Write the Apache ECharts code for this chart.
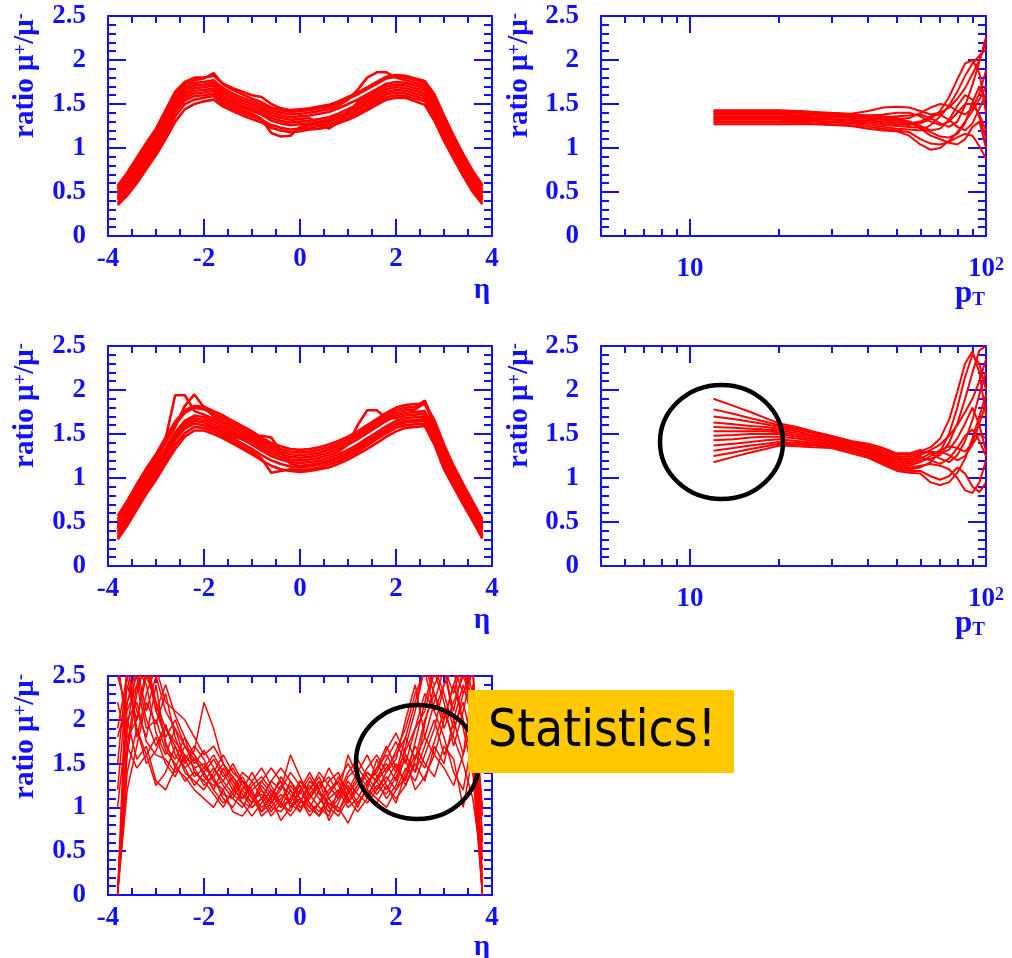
<!DOCTYPE html>
<html>
<head>
<meta charset="utf-8">
<script src="https://cdn.jsdelivr.net/npm/echarts@6/dist/echarts.min.js"></script>
<style>
html, body { margin: 0; padding: 0; background: #fff; }
#main { width: 1012px; height: 958px; }
</style>
</head>
<body>
<div id="main"></div>
<script>
// eta bins shared by the three eta plots
var etaBins = [-3.8, -3.6, -3.4, -3.2, -3.0, -2.8, -2.6, -2.4, -2.2, -2.0, -1.8, -1.6, -1.4, -1.2, -1.0, -0.8, -0.6, -0.4, -0.2, 0,
  0.2, 0.4, 0.6, 0.8, 1.0, 1.2, 1.4, 1.6, 1.8, 2.0, 2.2, 2.4, 2.6, 2.8, 3.0, 3.2, 3.4, 3.6, 3.8];
// pT bins shared by the two pT plots
var ptBins = [12, 14, 16, 18, 20, 23, 26, 30, 35, 40, 45, 50, 55, 60, 65, 70, 75, 80, 85, 90, 95, 100];

// tick values for the log axis
var ptMajor = [10];
var ptMinor = [6, 7, 8, 9, 20, 30, 40, 50, 60, 70, 80, 90];
var ptLabels = [10, 100];

// --- top left: ratio vs eta ---
var t1a = [0.35, 0.46, 0.60, 0.76, 0.92, 1.10, 1.30, 1.44, 1.50, 1.53, 1.55, 1.47, 1.42, 1.37, 1.33, 1.29, 1.23, 1.20, 1.18, 1.19, 1.21, 1.22, 1.24, 1.28, 1.32, 1.37, 1.43, 1.49, 1.55, 1.57, 1.57, 1.53, 1.49, 1.31, 1.08, 0.88, 0.68, 0.50, 0.36];
var t1b = [0.38, 0.50, 0.64, 0.80, 0.96, 1.15, 1.36, 1.50, 1.55, 1.57, 1.59, 1.50, 1.45, 1.40, 1.36, 1.32, 1.26, 1.23, 1.21, 1.22, 1.23, 1.25, 1.27, 1.31, 1.35, 1.40, 1.46, 1.52, 1.58, 1.60, 1.59, 1.56, 1.53, 1.36, 1.12, 0.91, 0.71, 0.54, 0.38];
var t1c = [0.41, 0.53, 0.68, 0.84, 1.00, 1.20, 1.41, 1.54, 1.59, 1.60, 1.62, 1.53, 1.48, 1.43, 1.39, 1.33, 1.17, 1.13, 1.14, 1.24, 1.26, 1.28, 1.30, 1.34, 1.38, 1.43, 1.49, 1.55, 1.61, 1.63, 1.62, 1.59, 1.56, 1.40, 1.16, 0.94, 0.74, 0.57, 0.41];
var t1d = [0.43, 0.56, 0.71, 0.88, 1.04, 1.24, 1.45, 1.57, 1.62, 1.63, 1.65, 1.56, 1.51, 1.46, 1.42, 1.38, 1.31, 1.28, 1.26, 1.27, 1.28, 1.30, 1.32, 1.36, 1.41, 1.46, 1.52, 1.58, 1.64, 1.66, 1.65, 1.62, 1.59, 1.44, 1.20, 0.97, 0.77, 0.59, 0.43];
var t1e = [0.45, 0.58, 0.74, 0.91, 1.07, 1.28, 1.48, 1.60, 1.65, 1.66, 1.68, 1.59, 1.53, 1.48, 1.44, 1.40, 1.34, 1.31, 1.29, 1.30, 1.31, 1.33, 1.35, 1.39, 1.44, 1.49, 1.55, 1.61, 1.67, 1.69, 1.68, 1.65, 1.62, 1.47, 1.23, 1.00, 0.79, 0.61, 0.45];
var t1f = [0.48, 0.61, 0.77, 0.94, 1.10, 1.31, 1.51, 1.63, 1.68, 1.69, 1.71, 1.62, 1.56, 1.51, 1.47, 1.43, 1.37, 1.34, 1.32, 1.33, 1.34, 1.28, 1.22, 1.29, 1.40, 1.52, 1.58, 1.64, 1.70, 1.72, 1.71, 1.68, 1.65, 1.50, 1.26, 1.03, 0.82, 0.64, 0.48];
var t1g = [0.50, 0.64, 0.80, 0.97, 1.13, 1.34, 1.54, 1.66, 1.71, 1.72, 1.74, 1.65, 1.59, 1.54, 1.50, 1.46, 1.40, 1.37, 1.35, 1.36, 1.37, 1.39, 1.41, 1.45, 1.50, 1.55, 1.61, 1.67, 1.73, 1.75, 1.74, 1.71, 1.68, 1.53, 1.29, 1.06, 0.85, 0.67, 0.50];
var t1h = [0.53, 0.67, 0.83, 1.00, 1.16, 1.37, 1.57, 1.69, 1.74, 1.75, 1.77, 1.68, 1.62, 1.57, 1.53, 1.49, 1.43, 1.40, 1.38, 1.39, 1.40, 1.42, 1.44, 1.48, 1.55, 1.66, 1.80, 1.86, 1.86, 1.80, 1.77, 1.74, 1.71, 1.56, 1.32, 1.09, 0.88, 0.70, 0.53];
var t1i = [0.55, 0.70, 0.86, 1.03, 1.19, 1.40, 1.61, 1.72, 1.77, 1.79, 1.85, 1.72, 1.66, 1.61, 1.56, 1.52, 1.46, 1.43, 1.41, 1.42, 1.43, 1.45, 1.47, 1.51, 1.56, 1.61, 1.67, 1.73, 1.79, 1.81, 1.80, 1.77, 1.74, 1.59, 1.35, 1.12, 0.91, 0.72, 0.56];
var t1j = [0.57, 0.72, 0.89, 1.06, 1.22, 1.43, 1.64, 1.75, 1.80, 1.80, 1.82, 1.73, 1.68, 1.64, 1.60, 1.58, 1.50, 1.45, 1.43, 1.44, 1.45, 1.47, 1.49, 1.53, 1.58, 1.63, 1.69, 1.75, 1.81, 1.83, 1.82, 1.79, 1.76, 1.61, 1.37, 1.14, 0.93, 0.74, 0.58];

// --- top right: ratio vs pT ---
var t2a = [1.27, 1.27, 1.27, 1.27, 1.27, 1.27, 1.27, 1.26, 1.25, 1.22, 1.20, 1.19, 1.14, 1.04, 0.98, 1.00, 1.08, 1.18, 1.30, 1.42, 1.55, 1.70];
var t2b = [1.29, 1.29, 1.29, 1.29, 1.29, 1.29, 1.28, 1.27, 1.26, 1.24, 1.22, 1.20, 1.18, 1.10, 1.05, 1.04, 1.07, 1.12, 1.16, 1.14, 1.02, 0.88];
var t2c = [1.30, 1.30, 1.30, 1.30, 1.30, 1.30, 1.30, 1.29, 1.28, 1.26, 1.24, 1.22, 1.21, 1.20, 1.26, 1.36, 1.48, 1.64, 1.82, 1.96, 2.05, 2.12];
var t2d = [1.32, 1.32, 1.32, 1.32, 1.32, 1.31, 1.31, 1.30, 1.29, 1.28, 1.26, 1.25, 1.24, 1.23, 1.18, 1.13, 1.12, 1.16, 1.28, 1.52, 1.70, 1.55];
var t2e = [1.33, 1.33, 1.33, 1.33, 1.33, 1.33, 1.32, 1.32, 1.31, 1.30, 1.28, 1.27, 1.26, 1.28, 1.33, 1.42, 1.58, 1.78, 1.96, 2.00, 1.85, 1.40];
var t2f = [1.35, 1.35, 1.35, 1.35, 1.35, 1.34, 1.34, 1.33, 1.32, 1.31, 1.30, 1.29, 1.28, 1.30, 1.36, 1.38, 1.32, 1.24, 1.20, 1.28, 1.45, 1.62];
var t2g = [1.36, 1.36, 1.36, 1.36, 1.36, 1.36, 1.35, 1.35, 1.34, 1.33, 1.32, 1.31, 1.30, 1.25, 1.20, 1.22, 1.32, 1.48, 1.60, 1.55, 1.35, 1.10];
var t2h = [1.38, 1.38, 1.38, 1.38, 1.38, 1.37, 1.37, 1.36, 1.35, 1.34, 1.33, 1.33, 1.34, 1.40, 1.46, 1.50, 1.48, 1.42, 1.38, 1.45, 1.62, 1.88];
var t2i = [1.39, 1.39, 1.39, 1.39, 1.39, 1.39, 1.38, 1.37, 1.36, 1.35, 1.35, 1.36, 1.37, 1.38, 1.34, 1.28, 1.24, 1.30, 1.48, 1.72, 1.98, 2.26];
var t2j = [1.41, 1.41, 1.41, 1.41, 1.41, 1.40, 1.39, 1.38, 1.37, 1.37, 1.38, 1.40, 1.40, 1.36, 1.30, 1.26, 1.30, 1.40, 1.50, 1.50, 1.38, 1.20];
var t2k = [1.42, 1.42, 1.42, 1.42, 1.42, 1.42, 1.41, 1.40, 1.39, 1.42, 1.46, 1.47, 1.46, 1.42, 1.38, 1.40, 1.46, 1.56, 1.68, 1.84, 2.00, 2.20];
var t2l = [1.43, 1.43, 1.43, 1.43, 1.43, 1.42, 1.41, 1.39, 1.38, 1.37, 1.36, 1.34, 1.30, 1.22, 1.14, 1.10, 1.06, 1.04, 1.10, 1.24, 1.30, 1.00];

// --- middle left: ratio vs eta ---
var m1a = [0.30, 0.46, 0.64, 0.82, 0.98, 1.16, 1.33, 1.47, 1.54, 1.54, 1.50, 1.45, 1.39, 1.33, 1.27, 1.20, 1.14, 1.10, 1.08, 1.07, 1.08, 1.10, 1.12, 1.16, 1.21, 1.27, 1.33, 1.40, 1.47, 1.53, 1.57, 1.58, 1.59, 1.38, 1.10, 0.90, 0.70, 0.51, 0.31];
var m1b = [0.33, 0.49, 0.68, 0.86, 1.02, 1.20, 1.38, 1.51, 1.58, 1.57, 1.53, 1.48, 1.42, 1.36, 1.30, 1.22, 1.06, 1.08, 1.10, 1.09, 1.10, 1.12, 1.15, 1.19, 1.24, 1.30, 1.37, 1.44, 1.51, 1.57, 1.60, 1.61, 1.62, 1.42, 1.13, 0.92, 0.72, 0.53, 0.33];
var m1c = [0.36, 0.53, 0.72, 0.90, 1.06, 1.25, 1.43, 1.56, 1.62, 1.60, 1.56, 1.51, 1.45, 1.39, 1.33, 1.26, 1.20, 1.16, 1.13, 1.12, 1.13, 1.15, 1.18, 1.22, 1.27, 1.33, 1.40, 1.47, 1.54, 1.60, 1.63, 1.64, 1.65, 1.45, 1.17, 0.95, 0.75, 0.56, 0.35];
var m1d = [0.39, 0.56, 0.75, 0.93, 1.09, 1.28, 1.46, 1.59, 1.65, 1.63, 1.58, 1.53, 1.47, 1.44, 1.46, 1.48, 1.46, 1.30, 1.16, 1.14, 1.15, 1.17, 1.20, 1.24, 1.29, 1.35, 1.42, 1.49, 1.56, 1.62, 1.65, 1.66, 1.67, 1.48, 1.20, 0.98, 0.78, 0.58, 0.38];
var m1e = [0.42, 0.59, 0.78, 0.96, 1.12, 1.31, 1.49, 1.62, 1.68, 1.66, 1.61, 1.56, 1.50, 1.44, 1.38, 1.31, 1.25, 1.21, 1.18, 1.17, 1.18, 1.20, 1.23, 1.27, 1.32, 1.38, 1.45, 1.52, 1.59, 1.65, 1.68, 1.69, 1.70, 1.51, 1.23, 1.01, 0.81, 0.61, 0.41];
var m1f = [0.44, 0.62, 0.81, 0.99, 1.15, 1.34, 1.52, 1.65, 1.71, 1.69, 1.64, 1.59, 1.53, 1.47, 1.41, 1.34, 1.28, 1.24, 1.21, 1.20, 1.21, 1.23, 1.26, 1.30, 1.38, 1.60, 1.77, 1.77, 1.68, 1.68, 1.71, 1.72, 1.73, 1.54, 1.26, 1.04, 0.84, 0.64, 0.43];
var m1g = [0.47, 0.65, 0.84, 1.02, 1.18, 1.45, 1.94, 1.94, 1.76, 1.72, 1.67, 1.62, 1.56, 1.50, 1.44, 1.37, 1.31, 1.27, 1.24, 1.23, 1.24, 1.26, 1.29, 1.33, 1.38, 1.44, 1.51, 1.58, 1.65, 1.71, 1.74, 1.75, 1.76, 1.57, 1.29, 1.07, 0.86, 0.66, 0.45];
var m1h = [0.50, 0.68, 0.87, 1.05, 1.21, 1.40, 1.58, 1.82, 1.95, 1.80, 1.70, 1.65, 1.59, 1.53, 1.47, 1.40, 1.34, 1.30, 1.27, 1.26, 1.27, 1.29, 1.32, 1.36, 1.41, 1.47, 1.54, 1.61, 1.68, 1.74, 1.77, 1.78, 1.85, 1.60, 1.32, 1.09, 0.88, 0.68, 0.47];
var m1i = [0.53, 0.71, 0.90, 1.08, 1.24, 1.43, 1.61, 1.74, 1.80, 1.78, 1.73, 1.68, 1.62, 1.56, 1.50, 1.43, 1.37, 1.33, 1.30, 1.29, 1.30, 1.32, 1.35, 1.39, 1.44, 1.50, 1.57, 1.64, 1.71, 1.77, 1.80, 1.81, 1.88, 1.63, 1.35, 1.12, 0.91, 0.71, 0.50];
var m1j = [0.57, 0.74, 0.93, 1.11, 1.27, 1.46, 1.64, 1.77, 1.82, 1.81, 1.76, 1.71, 1.65, 1.59, 1.53, 1.46, 1.40, 1.36, 1.33, 1.32, 1.33, 1.35, 1.38, 1.42, 1.47, 1.53, 1.60, 1.67, 1.74, 1.80, 1.83, 1.84, 1.84, 1.66, 1.38, 1.14, 0.93, 0.73, 0.53];

// --- middle right: ratio vs pT (fan at low pT) ---
var m2a = [1.18, 1.24, 1.29, 1.33, 1.37, 1.36, 1.35, 1.34, 1.28, 1.23, 1.15, 1.08, 1.06, 1.05, 0.95, 0.92, 0.95, 1.06, 1.22, 1.45, 1.70, 1.95];
var m2b = [1.25, 1.29, 1.33, 1.36, 1.39, 1.38, 1.37, 1.35, 1.30, 1.25, 1.17, 1.10, 1.08, 1.08, 1.02, 0.98, 1.02, 1.12, 1.05, 0.90, 0.84, 0.95];
var m2c = [1.31, 1.34, 1.37, 1.39, 1.41, 1.40, 1.38, 1.36, 1.31, 1.26, 1.19, 1.12, 1.10, 1.12, 1.18, 1.30, 1.50, 1.80, 2.15, 2.40, 2.30, 2.00];
var m2d = [1.37, 1.39, 1.41, 1.43, 1.44, 1.42, 1.40, 1.38, 1.33, 1.28, 1.21, 1.14, 1.12, 1.14, 1.16, 1.14, 1.10, 1.00, 0.86, 0.83, 0.95, 1.20];
var m2e = [1.43, 1.44, 1.46, 1.47, 1.47, 1.45, 1.42, 1.39, 1.34, 1.29, 1.22, 1.16, 1.14, 1.18, 1.25, 1.32, 1.36, 1.34, 1.30, 1.40, 1.62, 1.85];
var m2f = [1.48, 1.49, 1.50, 1.50, 1.50, 1.47, 1.44, 1.41, 1.35, 1.30, 1.24, 1.18, 1.16, 1.20, 1.22, 1.26, 1.40, 1.62, 1.90, 2.20, 2.45, 2.50];
var m2g = [1.53, 1.53, 1.53, 1.53, 1.52, 1.49, 1.46, 1.42, 1.37, 1.32, 1.25, 1.20, 1.18, 1.22, 1.28, 1.30, 1.26, 1.20, 1.25, 1.38, 1.50, 1.45];
var m2h = [1.58, 1.57, 1.56, 1.55, 1.54, 1.51, 1.48, 1.44, 1.38, 1.33, 1.27, 1.22, 1.20, 1.24, 1.20, 1.16, 1.22, 1.34, 1.48, 1.55, 1.42, 1.25];
var m2i = [1.63, 1.61, 1.59, 1.58, 1.56, 1.53, 1.49, 1.45, 1.39, 1.34, 1.28, 1.23, 1.22, 1.26, 1.32, 1.38, 1.48, 1.60, 1.75, 1.90, 2.10, 2.35];
var m2j = [1.70, 1.67, 1.64, 1.61, 1.58, 1.55, 1.51, 1.46, 1.40, 1.35, 1.30, 1.25, 1.24, 1.28, 1.30, 1.28, 1.32, 1.45, 1.62, 1.80, 1.60, 1.30];
var m2k = [1.78, 1.73, 1.68, 1.64, 1.60, 1.56, 1.52, 1.47, 1.41, 1.37, 1.32, 1.27, 1.26, 1.30, 1.35, 1.45, 1.66, 1.98, 2.30, 2.44, 2.20, 1.70];
var m2l = [1.90, 1.82, 1.75, 1.68, 1.62, 1.58, 1.53, 1.48, 1.42, 1.39, 1.34, 1.28, 1.28, 1.32, 1.28, 1.22, 1.18, 1.26, 1.42, 1.66, 1.95, 2.20];

// --- bottom: ratio vs eta, low statistics ---
var b1a = [0.00, 1.60, 2.30, 2.70, 2.20, 1.90, 1.75, 1.60, 1.45, 1.50, 1.30, 1.20, 1.35, 1.15, 1.05, 1.20, 1.00, 0.95, 1.10, 1.25, 1.05, 0.95, 1.10, 1.20, 1.15, 1.35, 1.25, 1.45, 1.60, 1.40, 1.80, 2.20, 2.60, 2.30, 2.00, 2.40, 2.70, 1.80, 0.00];
var b1b = [1.50, 2.60, 2.10, 1.80, 2.40, 1.70, 1.55, 1.80, 1.40, 1.30, 1.45, 1.25, 1.10, 1.30, 1.20, 0.95, 1.15, 1.30, 1.05, 0.95, 1.15, 1.30, 1.00, 0.90, 1.10, 1.25, 1.40, 1.30, 1.55, 1.75, 1.50, 1.90, 2.10, 2.55, 2.20, 1.70, 2.10, 2.60, 0.60];
var b1c = [0.00, 1.20, 1.70, 2.20, 1.95, 2.30, 1.80, 1.50, 1.65, 2.20, 1.90, 1.50, 1.30, 1.10, 1.25, 1.35, 1.20, 1.05, 0.90, 1.05, 1.30, 1.20, 0.85, 1.05, 1.30, 1.15, 1.05, 1.20, 1.35, 1.20, 1.45, 1.30, 1.60, 1.90, 2.40, 2.60, 1.90, 1.40, 0.00];
var b1d = [2.60, 2.00, 1.55, 1.70, 1.30, 1.20, 1.45, 1.35, 1.20, 1.10, 1.00, 1.20, 0.95, 0.90, 1.05, 1.25, 1.10, 0.85, 1.00, 1.20, 1.00, 0.90, 1.05, 1.00, 0.82, 1.05, 1.20, 1.10, 1.00, 1.20, 1.35, 1.60, 1.45, 1.75, 2.10, 1.80, 1.50, 1.10, 0.30];
var b1e = [1.80, 2.20, 2.50, 2.00, 1.70, 1.95, 1.60, 1.45, 1.55, 1.40, 1.20, 1.45, 1.25, 1.05, 1.00, 1.10, 1.30, 1.20, 1.60, 1.35, 1.10, 1.25, 1.35, 1.15, 1.60, 1.35, 1.15, 1.30, 1.45, 1.60, 1.80, 1.55, 2.00, 2.30, 1.90, 2.20, 2.50, 2.20, 1.00];
var b1f = [0.00, 1.90, 2.60, 2.10, 2.50, 2.10, 1.90, 1.70, 1.55, 1.40, 1.55, 1.35, 1.45, 1.25, 1.10, 1.15, 0.95, 1.10, 1.25, 1.10, 0.95, 1.05, 1.20, 1.30, 1.05, 1.25, 1.45, 1.60, 1.40, 1.55, 2.00, 2.40, 1.80, 2.20, 2.60, 2.00, 1.60, 2.40, 0.00];
var b1g = [2.20, 1.70, 1.45, 1.60, 1.80, 1.50, 1.35, 1.60, 1.45, 1.25, 1.35, 1.10, 1.00, 1.20, 1.40, 1.20, 1.05, 1.25, 1.15, 0.95, 1.20, 1.40, 1.25, 1.10, 1.25, 1.05, 1.20, 1.55, 1.25, 1.05, 1.40, 1.70, 1.50, 1.35, 1.70, 1.55, 1.00, 1.60, 0.20];
var b1h = [1.20, 2.40, 2.00, 2.60, 2.10, 1.80, 2.00, 1.70, 1.50, 1.65, 1.45, 1.30, 1.15, 1.05, 0.90, 1.05, 1.20, 1.00, 1.10, 1.30, 1.15, 1.00, 0.90, 1.20, 1.00, 1.10, 1.30, 1.40, 1.65, 1.85, 1.60, 1.40, 1.70, 2.00, 1.60, 1.85, 2.30, 2.60, 0.90];
var b1i = [0.00, 1.40, 1.90, 1.60, 1.25, 1.40, 1.70, 1.40, 1.30, 1.20, 1.40, 1.60, 1.40, 1.30, 1.15, 1.00, 1.10, 1.35, 1.20, 1.05, 1.25, 1.10, 0.95, 1.10, 1.35, 1.45, 1.30, 1.15, 1.30, 1.50, 1.25, 1.55, 1.80, 1.60, 1.45, 1.25, 1.60, 2.00, 0.00];
var b1j = [2.50, 2.10, 2.40, 1.90, 2.00, 1.65, 1.50, 1.30, 1.40, 1.30, 1.15, 1.00, 1.20, 1.40, 1.30, 1.10, 0.90, 1.05, 1.30, 1.15, 1.35, 1.15, 1.05, 0.95, 1.20, 1.40, 1.60, 1.35, 1.20, 1.40, 1.65, 1.90, 2.30, 2.10, 1.80, 1.40, 1.20, 1.80, 0.50];
var b1k = [1.00, 2.00, 2.20, 1.75, 1.60, 1.55, 1.40, 1.55, 1.70, 1.55, 1.30, 1.15, 1.10, 1.00, 1.20, 1.30, 1.45, 1.30, 1.00, 1.10, 0.90, 1.05, 1.30, 1.40, 1.10, 0.95, 1.10, 1.25, 1.15, 1.35, 1.55, 1.20, 1.35, 1.60, 2.00, 2.40, 2.00, 1.50, 0.00];
var b1l = [0.00, 2.70, 1.80, 2.30, 2.60, 2.20, 2.10, 2.00, 1.80, 1.60, 1.70, 1.50, 1.35, 1.20, 1.05, 1.30, 1.15, 1.00, 1.20, 1.00, 1.10, 1.30, 1.15, 1.30, 1.50, 1.30, 1.10, 1.35, 1.50, 1.30, 1.70, 2.10, 2.60, 2.40, 2.60, 2.10, 2.60, 2.20, 0.00];
var b1m = [0.00, 2.20, 2.60, 2.40, 1.85, 1.60, 1.90, 1.55, 1.35, 1.45, 1.60, 1.40, 1.20, 1.10, 1.30, 1.45, 1.25, 1.05, 0.95, 1.20, 1.40, 1.20, 1.00, 1.15, 1.40, 1.55, 1.35, 1.20, 1.40, 1.65, 1.90, 2.30, 2.55, 2.10, 2.40, 2.60, 2.30, 2.60, 0.00];
var b1n = [2.70, 1.80, 2.00, 2.50, 2.20, 1.75, 1.45, 1.70, 1.60, 1.35, 1.25, 1.30, 1.50, 1.30, 1.10, 0.95, 1.05, 1.20, 1.40, 1.25, 1.05, 0.90, 1.15, 1.35, 1.20, 1.00, 1.25, 1.45, 1.70, 1.45, 1.30, 1.75, 2.20, 2.60, 2.30, 1.90, 2.20, 1.70, 0.40];
var b1o = [0.00, 1.70, 2.40, 2.70, 2.10, 2.40, 2.05, 1.80, 1.60, 1.45, 1.35, 1.50, 1.30, 1.15, 1.00, 1.10, 1.30, 1.45, 1.30, 1.10, 1.00, 1.20, 1.45, 1.25, 1.05, 1.20, 1.40, 1.30, 1.10, 1.25, 1.60, 1.40, 1.95, 2.40, 2.60, 2.30, 2.70, 2.30, 0.00];
var b1p = [1.90, 2.50, 1.90, 1.50, 1.65, 1.90, 1.70, 1.45, 1.25, 1.40, 1.20, 1.05, 1.15, 1.35, 1.15, 0.90, 1.00, 1.15, 1.05, 1.30, 1.20, 1.35, 1.10, 0.95, 1.15, 1.30, 1.15, 1.05, 1.25, 1.10, 1.25, 1.50, 1.30, 1.70, 1.50, 2.00, 2.40, 2.00, 0.70];

var BLUE = '#1010ff';
var RED = '#ff0000';
var SERIF = '"Liberation Serif", "DejaVu Serif", serif';

function axisLineStyle() {
    return { color: BLUE, width: 2 };
}

// eta axis, bottom one carries the labels
function etaAxis(g, pos) {
    return {
        type: 'value', gridIndex: g, position: pos, min: -4, max: 4, interval: 2,
        axisLine: { show: true, onZero: false, lineStyle: axisLineStyle() },
        axisTick: { show: true, inside: true, length: 17, lineStyle: axisLineStyle() },
        minorTick: { show: true, splitNumber: 4, length: 7, lineStyle: axisLineStyle() },
        axisLabel: {
            show: pos === 'bottom', margin: 10, color: BLUE,
            fontFamily: SERIF, fontWeight: 'bold', fontSize: 27
        },
        splitLine: { show: false }
    };
}

// log pT axis, ticks given explicitly (major and minor ones on separate axes)
function ptAxis(g, pos, ticks, len, withLabels) {
    var ax = {
        type: 'log', logBase: 10, gridIndex: g, position: pos, min: 5, max: 100,
        axisLine: { show: len > 10, onZero: false, lineStyle: axisLineStyle() },
        axisTick: { show: true, inside: true, length: len, customValues: ticks, lineStyle: axisLineStyle() },
        axisLabel: { show: false },
        splitLine: { show: false }
    };
    if (withLabels) {
        ax.axisLabel = {
            show: true, customValues: ptLabels, margin: 20, color: BLUE,
            fontFamily: SERIF, fontWeight: 'bold', fontSize: 27,
            formatter: function (v) {
                return v >= 100 ? '{b|10}{s|2}' : '{b|10}';
            },
            rich: {
                b: { color: BLUE, fontFamily: SERIF, fontWeight: 'bold', fontSize: 27, lineHeight: 27, verticalAlign: 'bottom' },
                s: { color: BLUE, fontFamily: SERIF, fontWeight: 'bold', fontSize: 18, lineHeight: 18, verticalAlign: 'top', padding: [0, 0, 18, 0] }
            }
        };
    }
    return ax;
}

function ratioAxis(g, pos) {
    return {
        type: 'value', gridIndex: g, position: pos, min: 0, max: 2.5, interval: 0.5,
        axisLine: { show: true, onZero: false, lineStyle: axisLineStyle() },
        axisTick: { show: true, inside: true, length: 18, lineStyle: axisLineStyle() },
        minorTick: { show: true, splitNumber: 5, length: 8, lineStyle: axisLineStyle() },
        axisLabel: {
            show: pos === 'left', margin: 22, color: BLUE,
            fontFamily: SERIF, fontWeight: 'bold', fontSize: 27
        },
        splitLine: { show: false }
    };
}

var grids = [
    { left: 108, top: 16, width: 384, height: 220 },
    { left: 601, top: 16, width: 385, height: 220 },
    { left: 108, top: 346, width: 384, height: 220 },
    { left: 601, top: 346, width: 385, height: 220 },
    { left: 108, top: 676, width: 384, height: 219 }
];
grids.forEach(function (g) { g.outerBoundsMode = 'none'; g.containLabel = false; });

var xAxes = [
    etaAxis(0, 'bottom'), etaAxis(0, 'top'),
    ptAxis(1, 'bottom', ptMajor, 17, true), ptAxis(1, 'bottom', ptMinor, 7, false),
    ptAxis(1, 'top', ptMajor, 17, false), ptAxis(1, 'top', ptMinor, 7, false),
    etaAxis(2, 'bottom'), etaAxis(2, 'top'),
    ptAxis(3, 'bottom', ptMajor, 17, true), ptAxis(3, 'bottom', ptMinor, 7, false),
    ptAxis(3, 'top', ptMajor, 17, false), ptAxis(3, 'top', ptMinor, 7, false),
    etaAxis(4, 'bottom'), etaAxis(4, 'top')
];
var yAxes = [];
for (var g = 0; g < 5; g++) {
    yAxes.push(ratioAxis(g, 'left'), ratioAxis(g, 'right'));
}

var series = [];
function addCurves(xs, curves, xi, yi, w) {
    curves.forEach(function (c) {
        series.push({
            type: 'line', xAxisIndex: xi, yAxisIndex: yi, symbol: 'none', silent: true,
            data: xs.map(function (x, i) { return [x, c[i]]; }),
            lineStyle: { color: RED, width: w }
        });
    });
}
addCurves(etaBins, [t1a, t1b, t1c, t1d, t1e, t1f, t1g, t1h, t1i, t1j], 0, 0, 2.6);
addCurves(ptBins, [t2a, t2b, t2c, t2d, t2e, t2f, t2g, t2h, t2i, t2j, t2k, t2l], 2, 2, 2.0);
addCurves(etaBins, [m1a, m1b, m1c, m1d, m1e, m1f, m1g, m1h, m1i, m1j], 6, 4, 2.6);
addCurves(ptBins, [m2a, m2b, m2c, m2d, m2e, m2f, m2g, m2h, m2i, m2j, m2k, m2l], 8, 6, 2.0);
addCurves(etaBins, [b1a, b1b, b1c, b1d, b1e, b1f, b1g, b1h, b1i, b1j, b1k, b1l, b1m, b1n, b1o, b1p], 12, 8, 1.5);

// axis titles
function ratioTitle(x, yTop) {
    return {
        type: 'text', x: x, y: yTop, rotation: Math.PI / 2, z: 50,
        style: {
            text: 'ratio μ{s|+}/μ{s|-}', fill: BLUE, fontFamily: SERIF, fontWeight: 'bold', fontSize: 29,
            align: 'right', verticalAlign: 'middle',
            rich: { s: { fill: BLUE, fontFamily: SERIF, fontWeight: 'bold', fontSize: 19, lineHeight: 19, verticalAlign: 'top', padding: [0, 0, 14, 0] } }
        }
    };
}
function etaTitle(y) {
    return {
        type: 'text', x: 482, y: y, z: 50,
        style: { text: 'η', fill: BLUE, fontFamily: SERIF, fontWeight: 'bold', fontSize: 29, align: 'center', verticalAlign: 'middle' }
    };
}
function ptTitle(y) {
    return {
        type: 'text', x: 985, y: y, z: 50,
        style: {
            text: 'p{t|T}', fill: BLUE, fontFamily: SERIF, fontWeight: 'bold', fontSize: 31,
            align: 'right', verticalAlign: 'middle',
            rich: { t: { fill: BLUE, fontFamily: SERIF, fontWeight: 'bold', fontSize: 19, lineHeight: 19, verticalAlign: 'bottom', padding: [14, 0, 0, 0] } }
        }
    };
}

var graphics = [
    ratioTitle(26, 13), ratioTitle(520, 13), ratioTitle(26, 343), ratioTitle(520, 343), ratioTitle(26, 674),
    etaTitle(291), etaTitle(621), etaTitle(948),
    ptTitle(294), ptTitle(624),
    {
        type: 'ellipse', z: 60, shape: { cx: 721.5, cy: 442, rx: 61.5, ry: 57 },
        style: { fill: 'none', stroke: '#000', lineWidth: 4.5 }
    },
    {
        type: 'ellipse', z: 60, shape: { cx: 417.5, cy: 762, rx: 61.5, ry: 57 },
        style: { fill: 'none', stroke: '#000', lineWidth: 4.5 }
    },
    {
        type: 'rect', z: 70, shape: { x: 468, y: 690, width: 266, height: 83 },
        style: { fill: '#ffc800' }
    },
    {
        type: 'text', z: 80, x: 488, y: 733,
        style: {
            text: 'Statistics!', fill: '#000', fontFamily: '"DejaVu Sans Condensed", "Noto Sans", sans-serif',
            fontSize: 51, align: 'left', verticalAlign: 'middle'
        }
    }
];

var chart = echarts.init(document.getElementById('main'));
chart.setOption({
    animation: false,
    backgroundColor: '#fff',
    grid: grids,
    xAxis: xAxes,
    yAxis: yAxes,
    series: series,
    graphic: { elements: graphics }
});
</script>
</body>
</html>
